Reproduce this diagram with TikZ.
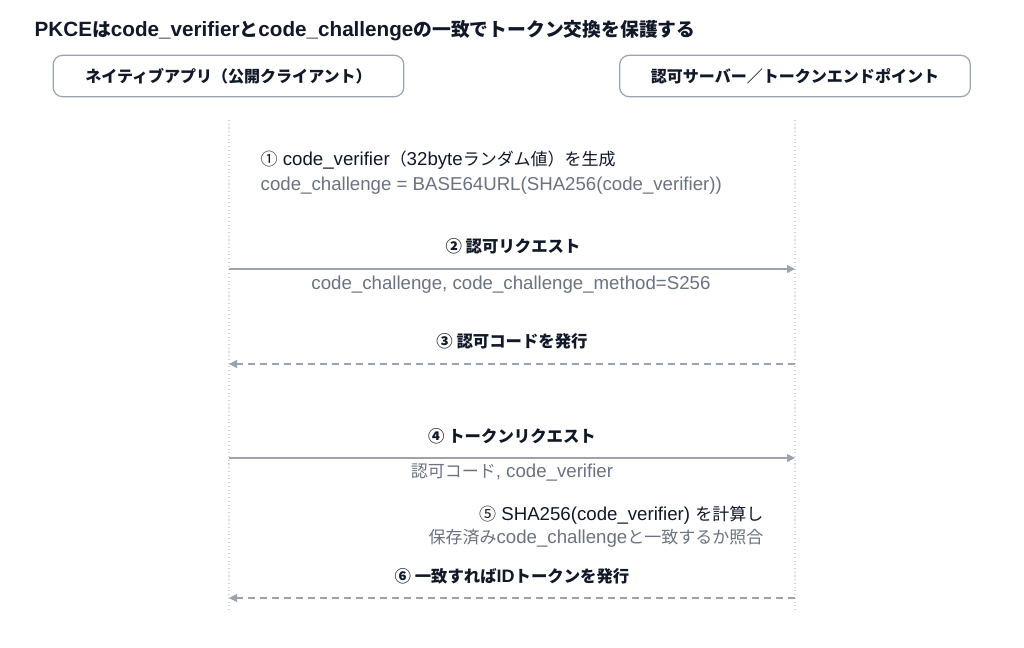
\documentclass[tikz,border=0pt]{standalone}
\usepackage{fontspec}
\setmainfont{Liberation Sans}
\newfontfamily\ja[Scale=0.91]{Noto Sans CJK JP}
\usetikzlibrary{arrows.meta,positioning}
\definecolor{ink}{HTML}{111827}
\definecolor{mute}{HTML}{6B7280}
\definecolor{edge}{HTML}{9CA3AF}
\definecolor{life}{HTML}{D1D5DB}
\tikzset{
	actor/.style={draw=edge,line width=0.9pt,rounded corners=7pt,minimum width=263pt,minimum height=31pt,font=\fontsize{13.2}{15}\selectfont\bfseries,text=ink},
	msg/.style={font=\fontsize{13.5}{16}\selectfont\bfseries,text=ink},
	note/.style={font=\fontsize{14}{16}\selectfont,text=ink},
	sub/.style={font=\fontsize{14}{16}\selectfont,text=mute},
	call/.style={draw=edge,line width=0.9pt,-{Triangle[length=6pt,width=6pt]}},
	reply/.style={call,dashed,dash pattern=on 5pt off 4pt}
}
\begin{document}
\begin{tikzpicture}[x=0.75pt,y=-0.75pt]
	\useasboundingbox[fill=white] (0,0) rectangle (1024,647);
	\node[anchor=west,font=\fontsize{15.5}{18}\selectfont\bfseries,text=ink] (title) at (30,31) {PKCE{\ja は}code\_verifier{\ja と}code\_challenge{\ja の一致でトークン交換を保護する}};
	\node[actor] (app) at (228.5,76) {\ja ネイティブアプリ（公開クライアント）};
	\node[actor] (srv) at (795,76) {\ja 認可サーバー／トークンエンドポイント};
	% lifelines
	\coordinate (a0) at (229,120); \coordinate (a1) at (229,612);
	\coordinate (s0) at (795,120); \coordinate (s1) at (795,612);
	\draw[life,dotted,line width=0.8pt] (a0) -- (a1);
	\draw[life,dotted,line width=0.8pt] (s0) -- (s1);
	% step 1
	\node[anchor=west,note] (n1) at (256,160) {{\ja ①} code\_verifier{\ja （}32byte{\ja ランダム値）を生成}};
	\node[anchor=west,sub] (n1b) at (256,186) {code\_challenge = BASE64URL(SHA256(code\_verifier))};
	% step 2
	\coordinate (a2) at (229,269); \coordinate (s2) at (795,269);
	\draw[call] (a2) -- (s2);
	\node[msg] (m2) at (513,246) {\ja ② 認可リクエスト};
	\node[sub] (m2b) at (511,285) {code\_challenge, code\_challenge\_method=S256};
	% step 3
	\coordinate (a3) at (229,364); \coordinate (s3) at (795,364);
	\draw[reply] (s3) -- (a3);
	\node[msg] (m3) at (512,341) {\ja ③ 認可コードを発行};
	% step 4
	\coordinate (a4) at (229,458); \coordinate (s4) at (795,458);
	\draw[call] (a4) -- (s4);
	\node[msg] (m4) at (512,436) {\ja ④ トークンリクエスト};
	\node[sub] (m4b) at (512,473) {{\ja 認可コード}, code\_verifier};
	% step 5
	\node[anchor=east,note] (n5) at (768,515) {{\ja ⑤} SHA256(code\_verifier) {\ja を計算し}};
	\node[anchor=east,sub] (n5b) at (768,538) {{\ja 保存済み}code\_challenge{\ja と一致するか照合}};
	% step 6
	\coordinate (a6) at (229,598); \coordinate (s6) at (795,598);
	\draw[reply] (s6) -- (a6);
	\node[msg] (m6) at (512,576) {{\ja ⑥ 一致すれば}ID{\ja トークンを発行}};
\end{tikzpicture}
\end{document}
